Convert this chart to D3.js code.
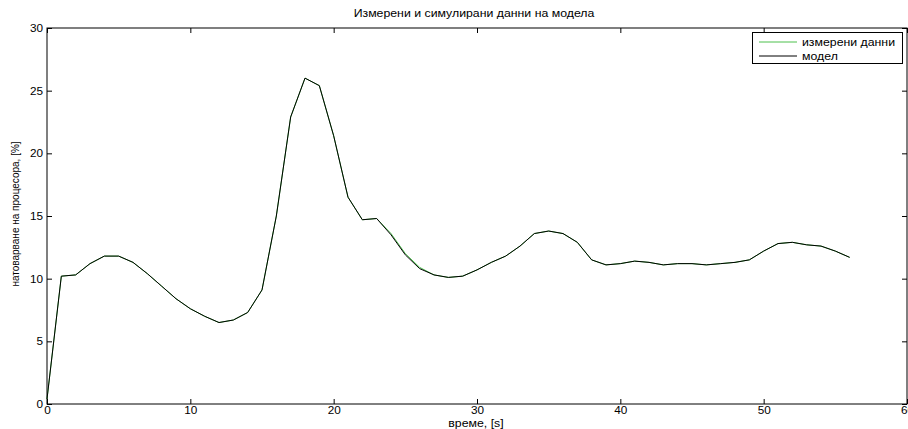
<!DOCTYPE html>
<html>
<head>
<meta charset="utf-8">
<script src="https://cdn.jsdelivr.net/npm/d3@7"></script>
<style>
  body { margin: 0; background: #fff; }
  text { font-family: "Liberation Sans", Arial, sans-serif; }
</style>
</head>
<body>
<script>
// time axis, seconds
const time = [0,1,2,3,4,5,6,7,8,9,10,11,12,13,14,15,16,17,18,19,20,21,22,23,24,25,26,27,28,29,30,31,32,33,34,35,36,37,38,39,40,41,42,43,44,45,46,47,48,49,50,51,52,53,54,55,56];
// CPU load, model
const model = [0.4,10.2,10.3,11.2,11.8,11.8,11.3,10.4,9.4,8.4,7.6,7.0,6.5,6.7,7.3,9.1,15.0,22.9,26.0,25.4,21.4,16.5,14.7,14.8,13.5,11.9,10.8,10.3,10.1,10.2,10.7,11.3,11.8,12.6,13.6,13.8,13.6,12.9,11.5,11.1,11.2,11.4,11.3,11.1,11.2,11.2,11.1,11.2,11.3,11.5,12.2,12.8,12.9,12.7,12.6,12.2,11.7];
// CPU load, measured
const measured = [0.4,10.2,10.3,11.2,11.8,11.8,11.3,10.4,9.4,8.4,7.6,7.0,6.5,6.7,7.3,9.1,15.0,22.9,26.0,25.4,21.4,16.5,14.7,14.8,13.6,12.0,10.9,10.3,10.1,10.2,10.7,11.3,11.8,12.6,13.6,13.8,13.6,12.9,11.5,11.1,11.2,11.4,11.3,11.1,11.2,11.2,11.1,11.2,11.3,11.5,12.2,12.8,12.9,12.7,12.6,12.2,11.7];
const xTicks = [0,10,20,30,40,50,60];
const yTicks = [0,5,10,15,20,25,30];
const legendLabels = ["измерени данни", "модел"];
const colors = ["#4cc04c", "#000"];

function main(){
    const W = 908, H = 429;
    const left = 47, right = 907, top = 28, bottom = 404;
    const sx = 1.12; // text in the picture is a bit wide

    const svg = d3.select("body").append("svg")
        .attr("width", W)
        .attr("height", H);

    const x = d3.scaleLinear().domain([0,60]).range([left,right]);
    const y = d3.scaleLinear().domain([0,30]).range([bottom,top]);

    // title
    svg.append("text")
        .attr("transform", `translate(474,17) scale(${sx},1)`)
        .attr("text-anchor","middle")
        .attr("font-size","11px")
        .text("Измерени и симулирани данни на модела");

    // axes with inward ticks on all sides
    const axisStyle = g => {
        g.select(".domain").remove();
        g.selectAll("line").attr("stroke","#000");
        g.selectAll("text").attr("font-size","10.5px").attr("fill","#000")
            .style("font-family","'Liberation Sans', Arial, sans-serif");
    };
    svg.append("g").attr("transform",`translate(0,${bottom})`)
        .call(d3.axisBottom(x).tickValues(xTicks).tickSizeInner(-5).tickSizeOuter(0).tickPadding(3))
        .call(axisStyle)
        .selectAll("text").attr("transform",`scale(${sx},1)`);
    svg.append("g").attr("transform",`translate(0,${top})`)
        .call(d3.axisTop(x).tickValues(xTicks).tickSizeInner(-5).tickSizeOuter(0).tickFormat(""))
        .call(axisStyle);
    svg.append("g").attr("transform",`translate(${left},0)`)
        .call(d3.axisLeft(y).tickValues(yTicks).tickSizeInner(-5).tickSizeOuter(0).tickPadding(3.5))
        .call(axisStyle)
        .selectAll("text").attr("transform",`scale(${sx},1)`);
    svg.append("g").attr("transform",`translate(${right},0)`)
        .call(d3.axisRight(y).tickValues(yTicks).tickSizeInner(-5).tickSizeOuter(0).tickFormat(""))
        .call(axisStyle);

    svg.append("rect")
        .attr("x", left).attr("y", top)
        .attr("width", right-left).attr("height", bottom-top)
        .attr("fill","none").attr("stroke","#000");

    // axis labels
    svg.append("text")
        .attr("transform", `translate(476,427) scale(${sx},1)`)
        .attr("text-anchor","middle")
        .attr("font-size","11px")
        .text("време, [s]");
    svg.append("text")
        .attr("transform","translate(19,214) rotate(-90)")
        .attr("text-anchor","middle")
        .attr("font-size","10px")
        .text("натоварване на процесора, [%]");

    const line = d3.line().x((d,i)=>x(time[i])).y(d=>y(d));
    [measured, model].forEach((s,k)=>{
        svg.append("path")
            .datum(s)
            .attr("d", line)
            .attr("fill","none")
            .attr("stroke", colors[k])
            .attr("stroke-width", 1);
    });

    // legend
    const lg = svg.append("g");
    lg.append("rect")
        .attr("x", 752.5).attr("y", 32.5)
        .attr("width", 150).attr("height", 31)
        .attr("fill","#fff").attr("stroke","#000");
    legendLabels.forEach((lab,k)=>{
        const ly = 42 + k*14;
        lg.append("line")
            .attr("x1",759).attr("x2",797)
            .attr("y1",ly).attr("y2",ly)
            .attr("stroke",colors[k]);
        lg.append("text")
            .attr("transform", `translate(802,${ly+4}) scale(${sx},1)`)
            .attr("font-size","11px")
            .text(lab);
    });
}
main();
</script>
</body>
</html>
